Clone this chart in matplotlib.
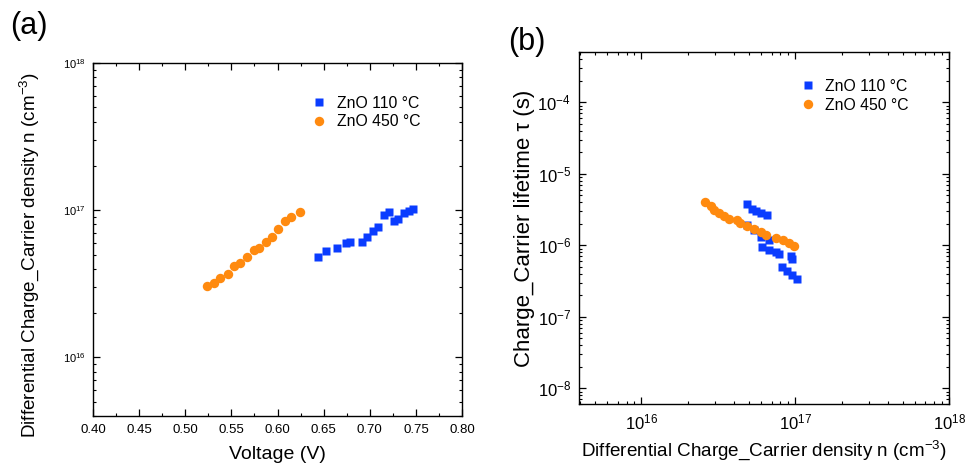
import numpy as np
import matplotlib
matplotlib.use("Agg")
import matplotlib.pyplot as plt

plt.rcParams["font.family"] = ["Liberation Sans", "DejaVu Sans"]
plt.rcParams["mathtext.fontset"] = "custom"
plt.rcParams["mathtext.rm"] = "Liberation Sans"
plt.rcParams["mathtext.it"] = "Liberation Sans:italic"

blue = "#0a3cff"
orange = "#ff8a0f"

# %% data, panel (a): carrier density vs voltage
v_110 = [0.644, 0.653, 0.665, 0.674, 0.679, 0.692, 0.697, 0.703, 0.709, 0.715,
         0.721, 0.726, 0.731, 0.737, 0.742, 0.747]
n_110 = [4.83e16, 5.28e16, 5.56e16, 6.01e16, 6.11e16, 6.08e16, 6.58e16, 7.19e16,
         7.70e16, 9.24e16, 9.69e16, 8.41e16, 8.68e16, 9.60e16, 9.89e16, 1.02e17]

v_450 = [0.524, 0.531, 0.538, 0.546, 0.553, 0.559, 0.567, 0.574, 0.580, 0.588,
         0.594, 0.601, 0.608, 0.615, 0.624]
n_450 = [3.05e16, 3.18e16, 3.49e16, 3.68e16, 4.20e16, 4.36e16, 4.83e16, 5.37e16,
         5.51e16, 6.11e16, 6.61e16, 7.50e16, 8.51e16, 8.96e16, 9.69e16]

# %% data, panel (b): lifetime vs carrier density
nb_110 = [4.86e16, 5.25e16, 5.55e16, 6.0e16, 6.5e16,
          4.86e16, 5.37e16, 5.94e16, 6.73e16,
          6.1e16, 6.73e16, 7.45e16, 7.82e16, 9.31e16, 9.55e16,
          8.23e16, 8.85e16, 9.55e16, 1.02e17]
tau_110 = [3.74e-6, 3.26e-6, 3.02e-6, 2.83e-6, 2.63e-6,
           1.9e-6, 1.62e-6, 1.3e-6, 1.17e-6,
           9.5e-7, 8.7e-7, 8.05e-7, 7.5e-7, 7.0e-7, 6.5e-7,
           4.97e-7, 4.37e-7, 3.8e-7, 3.42e-7]

nb_450 = [2.60e16, 2.81e16, 2.98e16, 3.18e16, 3.43e16, 3.69e16, 4.19e16, 4.40e16,
          4.86e16, 5.37e16, 5.94e16, 6.40e16, 7.44e16, 8.30e16, 9.08e16, 9.79e16]
tau_450 = [4.04e-6, 3.55e-6, 3.16e-6, 2.83e-6, 2.55e-6, 2.31e-6, 2.24e-6, 2.05e-6,
           1.86e-6, 1.71e-6, 1.54e-6, 1.41e-6, 1.26e-6, 1.20e-6, 1.09e-6, 9.77e-7]

density_label = "Differential Charge_Carrier density n (cm$^{-3}$)"


def style_axes(ax):
    ax.tick_params(which="both", direction="in", top=True, right=True)
    ax.tick_params(which="major", length=5, width=0.9)
    ax.tick_params(which="minor", length=2.5, width=0.8)
    for sp in ax.spines.values():
        sp.set_linewidth(1.0)


fig = plt.figure(figsize=(9.68, 4.69), dpi=100)

# %% panel (a)
ax1 = fig.add_axes([0.0961, 0.113, 0.3812, 0.7527])
ax1.plot(v_110, n_110, "s", color=blue, ms=5.8, mec="none", label="ZnO 110 \u00b0C")
ax1.plot(v_450, n_450, "o", color=orange, ms=6.8, mec="none", label="ZnO 450 \u00b0C")
ax1.set_yscale("log")
ax1.set_xlim(0.40, 0.80)
ax1.set_ylim(4e15, 1e18)
ax1.set_xticks(np.arange(0.40, 0.801, 0.05))
ax1.set_xticks(np.arange(0.425, 0.80, 0.05), minor=True)
ax1.xaxis.set_major_formatter(plt.FormatStrFormatter("%.2f"))
style_axes(ax1)
ax1.tick_params(axis="x", which="major", labelsize=9.5, pad=6)
ax1.tick_params(axis="y", which="major", labelsize=8, pad=5)
ax1.set_xlabel("Voltage (V)", fontsize=14, labelpad=7)
ax1.set_ylabel(density_label, fontsize=13.6)
ax1.yaxis.set_label_coords(-0.141, 0.4575)
ax1.legend(loc="upper right", bbox_to_anchor=(0.908, 0.93), frameon=False,
           fontsize=11.3, borderpad=0, handletextpad=0.6, labelspacing=0.25,
           handlelength=1.0)
fig.text(0.010, 0.945, "(a)", fontsize=22, va="center")

# %% panel (b)
ax2 = fig.add_axes([0.5985, 0.138, 0.3822, 0.7518])
ax2.plot(nb_110, tau_110, "s", color=blue, ms=5.8, mec="none", label="ZnO 110 \u00b0C")
ax2.plot(nb_450, tau_450, "o", color=orange, ms=6.8, mec="none", label="ZnO 450 \u00b0C")
ax2.set_xscale("log")
ax2.set_yscale("log")
ax2.set_xlim(3.95e15, 1e18)
ax2.set_ylim(6e-9, 5.1e-4)
style_axes(ax2)
ax2.tick_params(which="major", labelsize=12, pad=6)
ax2.set_xlabel(density_label, fontsize=13.6, labelpad=4)
ax2.set_ylabel("Charge_Carrier lifetime \u03c4 (s)", fontsize=16, labelpad=2)
ax2.legend(loc="upper right", bbox_to_anchor=(0.912, 0.945), frameon=False,
           fontsize=11.3, borderpad=0, handletextpad=0.6, labelspacing=0.25,
           handlelength=1.0)
fig.text(0.525, 0.91, "(b)", fontsize=22, va="center")

fig.savefig("out.png", dpi=100)
